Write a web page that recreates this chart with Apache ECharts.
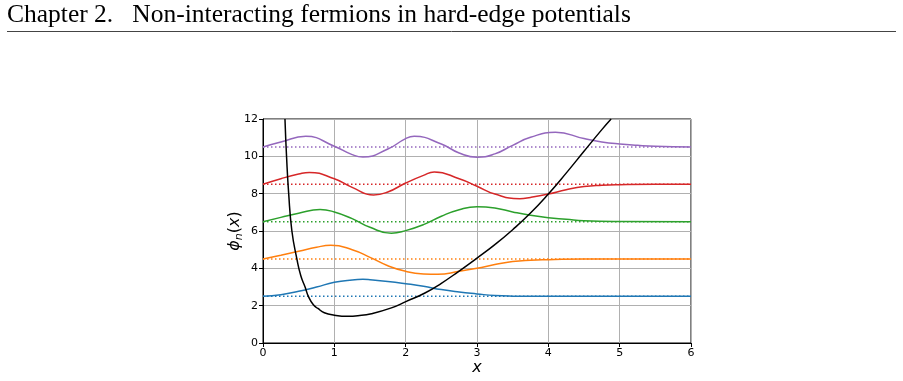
<!DOCTYPE html>
<html>
<head>
<meta charset="utf-8">
<script src="https://cdn.jsdelivr.net/npm/echarts@6/dist/echarts.min.js"></script>
<style>
  html, body { margin: 0; padding: 0; background: #fff; }
  #chart { width: 903px; height: 381px; }
</style>
</head>
<body>
<div id="chart"></div>
<script>
// 势能曲线 (black)
const potX = [0.308, 0.33, 0.36, 0.405, 0.475, 0.53, 0.59, 0.636, 0.706, 0.77, 0.86, 1.0, 1.19, 1.33, 1.52, 1.8, 2.01, 2.27, 2.5, 2.73, 3.0, 3.25, 3.5, 3.75, 4.0, 4.25, 4.5, 4.75, 4.88];
const potY = [12, 10, 8, 6, 4.5, 3.6, 3.0, 2.5, 2.05, 1.85, 1.62, 1.49, 1.43, 1.46, 1.57, 1.88, 2.23, 2.68, 3.2, 3.8, 4.55, 5.27, 6.07, 6.96, 7.98, 9.1, 10.27, 11.43, 12];

// 能级 (dotted baselines)
const levels = [2.5, 4.5, 6.5, 8.5, 10.5];
const colors = ['#1f77b4', '#ff7f0e', '#2ca02c', '#d62728', '#9467bd'];

// 波函数 (shifted by energy)
const wave0X = [0, 0.25, 0.5, 0.75, 1.0, 1.25, 1.4, 1.5, 1.75, 2.0, 2.25, 2.5, 2.75, 3.0, 3.25, 3.5, 4.0, 5.0, 6.0];
const wave0Y = [2.5, 2.59, 2.77, 3.0, 3.25, 3.38, 3.41, 3.39, 3.3, 3.18, 3.04, 2.86, 2.73, 2.63, 2.54, 2.51, 2.5, 2.5, 2.5];

const wave1X = [0, 0.25, 0.5, 0.75, 0.95, 1.25, 1.5, 1.75, 2.0, 2.25, 2.45, 2.75, 3.0, 3.25, 3.5, 3.75, 4.0, 4.5, 5.0, 6.0];
const wave1Y = [4.5, 4.7, 4.91, 5.13, 5.23, 5.0, 4.59, 4.14, 3.84, 3.7, 3.68, 3.84, 4.0, 4.2, 4.36, 4.43, 4.46, 4.5, 4.5, 4.5];

const wave2X = [0, 0.25, 0.5, 0.8, 1.0, 1.25, 1.5, 1.8, 2.0, 2.25, 2.5, 2.75, 3.0, 3.25, 3.5, 3.75, 4.0, 4.25, 4.5, 5.0, 6.0];
const wave2Y = [6.5, 6.73, 6.95, 7.15, 7.02, 6.66, 6.2, 5.88, 6.02, 6.34, 6.79, 7.14, 7.3, 7.23, 7.02, 6.84, 6.71, 6.63, 6.55, 6.51, 6.5];

const wave3X = [0, 0.25, 0.5, 0.65, 1.0, 1.25, 1.55, 1.75, 2.0, 2.25, 2.4, 2.75, 3.0, 3.25, 3.6, 3.75, 4.0, 4.25, 4.5, 4.75, 5.0, 5.5, 6.0];
const wave3Y = [8.5, 8.8, 9.05, 9.14, 8.8, 8.34, 7.93, 8.09, 8.57, 8.98, 9.16, 8.8, 8.4, 7.98, 7.73, 7.8, 7.98, 8.21, 8.38, 8.45, 8.48, 8.5, 8.5];

const wave4X = [0, 0.25, 0.6, 1.0, 1.25, 1.4, 1.75, 2.0, 2.12, 2.5, 2.75, 3.0, 3.25, 3.5, 3.75, 4.1, 4.5, 4.75, 5.0, 5.25, 5.5, 6.0];
const wave4Y = [10.5, 10.77, 11.07, 10.54, 10.09, 9.96, 10.39, 10.95, 11.07, 10.66, 10.18, 9.95, 10.13, 10.59, 11.02, 11.29, 10.95, 10.77, 10.66, 10.59, 10.54, 10.5];

const waveX = [wave0X, wave1X, wave2X, wave3X, wave4X];
const waveY = [wave0Y, wave1Y, wave2Y, wave3Y, wave4Y];

const xTicks = [0, 1, 2, 3, 4, 5, 6];
const yTicks = [0, 2, 4, 6, 8, 10, 12];

const pairs = (xs, ys) => xs.map((x, i) => [x, ys[i]]);

const chart = echarts.init(document.getElementById('chart'));

const series = [];
levels.forEach((lv, i) => {
  series.push({
    type: 'line',
    data: [[xTicks[0], lv], [xTicks[xTicks.length - 1], lv]],
    showSymbol: false,
    silent: true,
    lineStyle: { color: colors[i], width: 1.5, type: [1.5, 2.5] }
  });
  series.push({
    type: 'line',
    data: pairs(waveX[i], waveY[i]),
    showSymbol: false,
    smooth: 0.5,
    lineStyle: { color: colors[i], width: 1.5 }
  });
});
series.push({
  type: 'line',
  data: pairs(potX, potY),
  showSymbol: false,
  smooth: 0.5,
  clip: true,
  lineStyle: { color: '#000', width: 1.5 }
});

const option = {
  animation: false,
  backgroundColor: '#fff',
  grid: {
    left: 263, right: 212, top: 119, bottom: 38,
    show: true, borderColor: '#000', borderWidth: 1
  },
  xAxis: {
    type: 'value', min: 0, max: 6, interval: 1,
    axisLine: { lineStyle: { color: '#000', width: 1 } },
    axisTick: { show: true, length: 4, lineStyle: { color: '#000' } },
    axisLabel: { color: '#000', fontSize: 11, fontFamily: 'DejaVu Sans', margin: 5 },
    splitLine: { show: true, lineStyle: { color: '#b0b0b0', width: 1 } }
  },
  yAxis: {
    type: 'value', min: 0, max: 12, interval: 2,
    axisLine: { show: true, lineStyle: { color: '#000', width: 1 } },
    axisTick: { show: true, length: 4, lineStyle: { color: '#000' } },
    axisLabel: { color: '#000', fontSize: 11, fontFamily: 'DejaVu Sans', margin: 5 },
    splitLine: { show: true, lineStyle: { color: '#b0b0b0', width: 1 } }
  },
  graphic: [
    {
      type: 'text', left: 7, top: 2,
      style: {
        text: 'Chapter 2.   Non-interacting fermions in hard-edge potentials',
        font: '25.5px "Liberation Serif"', fill: '#000'
      }
    },
    {
      type: 'line',
      shape: { x1: 7, y1: 31.5, x2: 896, y2: 31.5 },
      style: { stroke: '#444', lineWidth: 1 }
    },
    {
      type: 'text', x: 235, y: 231, rotation: Math.PI / 2,
      style: {
        text: '{i|ϕ}{s|n}{p|(}{i|x}{p|)}',
        align: 'center', verticalAlign: 'middle', fill: '#000',
        rich: {
          i: { fontSize: 16, fontStyle: 'italic', fontFamily: 'DejaVu Sans' },
          s: { fontSize: 11, fontStyle: 'italic', fontFamily: 'DejaVu Sans', padding: [8, 0, 0, 0] },
          p: { fontSize: 16, fontFamily: 'DejaVu Sans' }
        }
      }
    },
    {
      type: 'text', x: 477, y: 368,
      style: {
        text: 'x', align: 'center', verticalAlign: 'middle', fill: '#000',
        font: 'italic 16px "DejaVu Sans"'
      }
    }
  ],
  series: series
};

chart.setOption(option);
</script>
</body>
</html>
